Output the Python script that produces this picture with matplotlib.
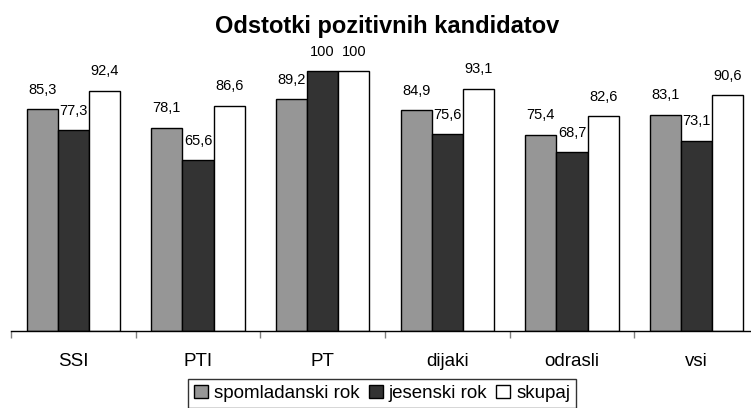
import matplotlib
matplotlib.use("Agg")
import matplotlib.pyplot as plt
import numpy as np

categories = ["SSI", "PTI", "PT", "dijaki", "odrasli", "vsi"]
spomladanski = [85.3, 78.1, 89.2, 84.9, 75.4, 83.1]
jesenski = [77.3, 65.6, 100, 75.6, 68.7, 73.1]
skupaj = [92.4, 86.6, 100, 93.1, 82.6, 90.6]
series_names = ["spomladanski rok", "jesenski rok", "skupaj"]

plt.rcParams['font.family'] = ['Liberation Sans', 'DejaVu Sans']

W, H = 751, 408
fig = plt.figure(figsize=(W / 100, H / 100), dpi=100)
ax_left, ax_right = 11, 759
ax_bottom, ax_top = 331, 45
ax = fig.add_axes([ax_left / W, 1 - ax_bottom / H, (ax_right - ax_left) / W, (ax_bottom - ax_top) / H])

x = np.arange(len(categories))
w = 0.25
colors = ["#969696", "#333333", "#ffffff"]
all_series = [spomladanski, jesenski, skupaj]
for k, (vals, col, name) in enumerate(zip(all_series, colors, series_names)):
    bars = ax.bar(x + (k - 1) * w, vals, w, color=col, edgecolor="black", linewidth=1.0, label=name)
    for b, v in zip(bars, vals):
        lbl = ("%g" % v).replace(".", ",")
        ax.annotate(lbl, (b.get_x() + b.get_width() / 2, v), xytext=(0, 9), textcoords="offset points",
                    ha="center", va="bottom", fontsize=10.5, clip_on=False)

ax.set_xlim(-0.5, 5.5)
ax.set_ylim(0, 110)
for s in ["top", "right", "left"]:
    ax.spines[s].set_visible(False)
ax.spines["bottom"].set_color("black")
ax.spines["bottom"].set_linewidth(1.0)
ax.set_yticks([])
ax.set_xticks(x)
ax.set_xticklabels(categories, fontsize=13.5)
ax.tick_params(axis="x", which="major", length=0, pad=16)
ax.set_xticks(np.arange(-0.5, 6.0, 1.0), minor=True)
ax.tick_params(axis="x", which="minor", length=5, width=1, color="#808080")

fig.text(387 / W, 1 - 27 / H, "Odstotki pozitivnih kandidatov", ha="center", va="center",
         fontsize=17, fontweight="bold")

leg = fig.legend(loc="upper center", bbox_to_anchor=(382 / W, 1 - 379 / H), ncol=3, fontsize=13.5,
                 frameon=True, fancybox=False, edgecolor="black", handlelength=0.75, handleheight=0.75,
                 handletextpad=0.3, columnspacing=0.5, borderpad=0.3, borderaxespad=0)
leg.get_frame().set_linewidth(1.0)

fig.savefig("out.png", dpi=100)
